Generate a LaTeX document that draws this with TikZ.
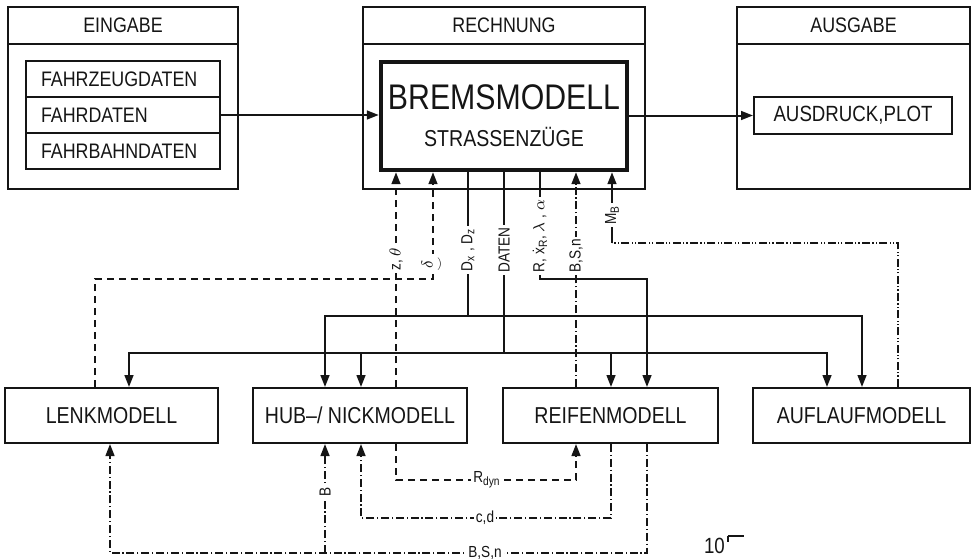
\documentclass[tikz,border=0pt]{standalone}
\usepackage{fontspec}
\usepackage{amsmath}
\setsansfont{Liberation Sans}[FakeStretch=0.85]
\usetikzlibrary{arrows.meta, positioning, calc}
\definecolor{cink}{HTML}{151515}
\tikzset{
  every picture/.style={font=\sffamily, line width=1pt, color=cink},
  grp/.style={draw, minimum height=91pt, inner sep=0pt},
  grptitle/.style={font=\sffamily\fontsize{10.5}{12}\selectfont, minimum height=18pt, inner sep=0pt},
  item/.style={draw, outer sep=0pt, text width=82pt, inner xsep=7.5pt, inner ysep=0pt, minimum height=18pt, align=left, font=\sffamily\fontsize{10.5}{12}\selectfont},
  model/.style={draw, minimum height=27.5pt, inner sep=0pt, font=\sffamily\fontsize{11.5}{13}\selectfont},
  arrow/.style={-{Triangle[length=6pt, width=4.4pt]}},
  biarrow/.style={{Triangle[length=6pt, width=4.4pt]}-{Triangle[length=6pt, width=4.4pt]}},
  lab/.style={font=\sffamily\fontsize{8}{9.5}\selectfont, fill=white, inner sep=1.2pt},
  vlab/.style={lab, rotate=90},
}

\begin{document}
\begin{tikzpicture}[
  x=0.5pt, y=-0.5pt,
  dashline/.style={dash pattern=on 3.5pt off 2.5pt},
  dotline/.style={dash pattern=on 4pt off 1.4pt on 0.6pt off 1.4pt},
  ddotline/.style={dash pattern=on 4pt off 1.2pt on 0.6pt off 1pt on 0.6pt off 1.2pt},
]
  \useasboundingbox (0,0) rectangle (973,558);

  % upper row
  \node[grp, minimum width=115pt] (ein) at (123,98) {};
  \node[grptitle, minimum width=115pt] (eint) at (123,25) {EINGABE};
  \draw (eint.south -| ein.west) -- (eint.south -| ein.east);
  \node[item] (fzd) at (123,79) {FAHRZEUGDATEN};
  \node[item, below=0pt of fzd] (fd) {FAHRDATEN};
  \node[item, below=0pt of fd] (fbd) {FAHRBAHNDATEN};

  \node[grp, minimum width=141pt] (rech) at (504,98) {};
  \node[grptitle, minimum width=141pt] (recht) at (504,25) {RECHNUNG};
  \draw (recht.south -| rech.west) -- (recht.south -| rech.east);
  \node[draw, line width=2.2pt, minimum width=123pt, minimum height=54pt, inner sep=0pt, align=center,
        font=\sffamily\fontsize{11.5}{14}\selectfont] (brems) at (504,116)
        {{\fontsize{17.8}{18}\selectfont BREMSMODELL}\\[4.5pt]STRASSENZÜGE};

  \node[grp, minimum width=116.5pt] (aus) at (853.5,98) {};
  \node[grptitle, minimum width=116.5pt] (aust) at (853.5,25) {AUSGABE};
  \draw (aust.south -| aus.west) -- (aust.south -| aus.east);
  \node[draw, minimum width=99pt, minimum height=18.5pt, inner sep=0pt,
        font=\sffamily\fontsize{11}{13}\selectfont] (ausd) at (853,115.5) {AUSDRUCK,PLOT};

  \draw[arrow] (fd.east) -- (fd.east -| brems.west);
  \draw[arrow] (brems.east |- ausd.west) -- (ausd.west);

  % lower row
  \node[model, minimum width=106.5pt] (lenk) at (111.5,415.5) {LENKMODELL};
  \node[model, minimum width=107pt] (hub) at (360,415.5) {HUB–/ NICKMODELL};
  \node[model, minimum width=107.5pt] (reif) at (610.5,415.5) {REIFENMODELL};
  \node[model, minimum width=108.5pt] (aufl) at (861.5,415.5) {AUFLAUFMODELL};

  % label points and bends
  \coordinate (zt) at (396,259);
  \coordinate (dv) at (433,264);
  \coordinate (dxz) at (468,250);
  \coordinate (dat) at (504,250);
  \coordinate (rx) at (540,236);
  \coordinate (bsn) at (576,256);
  \coordinate (mb) at (612,215);
  \coordinate (dturn) at (95,279);
  \coordinate (rturn) at (647,279);
  \coordinate (mturn) at (898,243);
  \coordinate (b1a) at (325,316);
  \coordinate (b1b) at (862,316);
  \coordinate (b2a) at (129,353);
  \coordinate (b2b) at (827,353);
  \coordinate (h2) at (361,353);
  \coordinate (r2) at (611,353);
  \coordinate (rdyn) at (487,480);
  \coordinate (cd) at (485,518);
  \coordinate (bs) at (485,553);
  \coordinate (lb) at (110,553);
  \coordinate (bl) at (325,492);

  % into the brake model
  \draw[arrow, dashline] (hub.north -| zt) -- (brems.south -| zt);
  \draw[arrow, dashline] (lenk.north -| dturn) -- (dturn) -- (dturn -| dv) -- (brems.south -| dv);
  \draw[arrow, dotline] (reif.north -| bsn) -- (brems.south -| bsn);
  \draw[ddotline] (aufl.north -| mturn) -- (mturn) -- (mturn -| mb);
  \draw[arrow] (mturn -| mb) -- (brems.south -| mb);

  % out of the brake model
  \draw (brems.south -| dxz) -- (dxz |- b1a);
  \draw (brems.south -| dat) -- (dat |- b2a);
  \draw[arrow] (brems.south -| rx) -- (rx |- rturn) -- (rturn) -- (reif.north -| rturn);
  \draw[biarrow] (hub.north -| b1a) -- (b1a) -- (b1b) -- (aufl.north -| b1b);
  \draw[biarrow] (lenk.north -| b2a) -- (b2a) -- (b2b) -- (aufl.north -| b2b);
  \draw[arrow] (h2) -- (hub.north -| h2);
  \draw[arrow] (r2) -- (reif.north -| r2);

  \node[vlab] (lzt) at (zt) {z, $\theta$};
  \node[vlab] (ldv) at (dv) {$\underset{\smile}{\delta}$};
  \node[vlab] (ldxz) at (dxz) {D\textsubscript{x} , D\textsubscript{z}};
  \node[vlab] (ldat) at (dat) {DATEN};
  \node[vlab] (lrx) at (rx) {R, \.{x}\textsubscript{R}, $\lambda$ , $\alpha$};
  \node[vlab] (lbsn) at (bsn) {B,S,n};
  \node[vlab] (lmb) at (mb) {M\textsubscript{B}};

  % between the models
  \draw[arrow, dashline] (hub.south -| zt) -- (zt |- rdyn) -- (bsn |- rdyn) -- (reif.south -| bsn);
  \draw[arrow, dotline] (reif.south -| r2) -- (r2 |- cd) -- (h2 |- cd) -- (hub.south -| h2);
  \draw[arrow, dotline] (reif.south -| rturn) -- (rturn |- bs) -- (lb) -- (lenk.south -| lb);
  \draw[arrow, dotline] (bl |- bs) -- (hub.south -| bl);

  \node[lab] (lrdyn) at (rdyn) {R\textsubscript{dyn}};
  \node[lab] (lcd) at (cd) {c,d};
  \node[lab] (lbs) at (bs) {B,S,n};
  \node[vlab] (lbl) at (bl) {B};

  \node[anchor=north west, inner sep=0pt, font=\sffamily\fontsize{11}{13}\selectfont] (pg) at (703,537) {10};
  \draw (pg.north east) ++(1pt,0.5pt) coordinate (pgc) -- ++(8pt,0) (pgc) -- ++(0,-3pt);
\end{tikzpicture}
\end{document}
